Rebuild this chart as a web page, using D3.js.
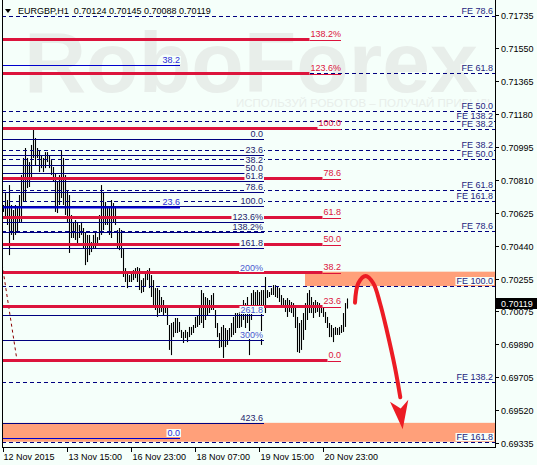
<!DOCTYPE html>
<html><head><meta charset="utf-8">
<script src="https://cdn.jsdelivr.net/npm/d3@7"></script>
<style>html,body{margin:0;padding:0;background:#F5FFFA;} svg{display:block;}</style>
</head><body><svg id="c" width="537" height="465"></svg>
<script>
// ---------------- DATA ----------------
const symbolTitle = "EURGBP,H1  0.70124 0.70145 0.70088 0.70119";
const lastPrice = 0.70119;
const barHigh = [
0.70669,0.70736,0.70697,0.70781,0.70669,0.70641,0.70669,0.70652,0.70725,0.70837,
0.70933,0.70989,0.70933,0.70910,0.71006,0.71090,0.71045,0.70989,0.70977,0.70949,
0.70933,0.70966,0.70966,0.70949,0.70921,0.70882,0.70848,0.70798,0.70837,0.70977,
0.70933,0.70837,0.70753,0.70725,0.70613,0.70574,0.70585,0.70574,0.70557,0.70574,
0.70540,0.70517,0.70501,0.70501,0.70461,0.70501,0.70517,0.70489,0.70613,0.70781,
0.70742,0.70686,0.70652,0.70652,0.70697,0.70680,0.70658,0.70529,0.70540,0.70529,
0.70428,0.70315,0.70293,0.70276,0.70287,0.70304,0.70315,0.70321,0.70315,0.70248,
0.70259,0.70287,0.70304,0.70315,0.70276,0.70248,0.70203,0.70203,0.70192,0.70153,
0.70136,0.70108,0.70097,0.69996,0.70007,0.70013,0.70035,0.70035,0.70013,0.69968,
0.69957,0.69968,0.69957,0.69985,0.69985,0.69996,0.70041,0.70052,0.70097,0.70192,
0.70175,0.70153,0.70147,0.70136,0.70164,0.70175,0.70080,0.70007,0.69951,0.69985,
0.69996,0.69979,0.69968,0.69979,0.70007,0.70041,0.70063,0.70063,0.70069,0.70080,
0.70136,0.70119,0.70153,0.70080,0.70175,0.70192,0.70181,0.70192,0.70181,0.70192,
0.70192,0.70265,0.70192,0.70181,0.70203,0.70220,0.70220,0.70209,0.70203,0.70164,
0.70147,0.70136,0.70147,0.70136,0.70125,0.70119,0.70097,0.70041,0.70007,0.70024,
0.70063,0.70119,0.70175,0.70192,0.70153,0.70125,0.70136,0.70125,0.70119,0.70108,
0.70097,0.70069,0.70041,0.70007,0.69996,0.69979,0.69985,0.69979,0.69985,0.69996,
0.70063,0.70119,0.70145];
const barLow = [
0.70630,0.70596,0.70557,0.70388,0.70501,0.70473,0.70501,0.70517,0.70574,0.70574,
0.70686,0.70686,0.70764,0.70770,0.70820,0.70933,0.70893,0.70933,0.70854,0.70876,
0.70854,0.70876,0.70910,0.70876,0.70837,0.70798,0.70630,0.70624,0.70669,0.70708,
0.70669,0.70613,0.70574,0.70400,0.70484,0.70484,0.70473,0.70445,0.70484,0.70501,
0.70428,0.70332,0.70349,0.70388,0.70405,0.70428,0.70428,0.70445,0.70473,0.70501,
0.70529,0.70557,0.70557,0.70501,0.70484,0.70568,0.70557,0.70428,0.70416,0.70372,
0.70265,0.70237,0.70203,0.70237,0.70237,0.70248,0.70259,0.70237,0.70192,0.70175,
0.70181,0.70209,0.70248,0.70203,0.70153,0.70097,0.70080,0.70041,0.70063,0.70069,
0.70052,0.70063,0.69996,0.69856,0.69827,0.69928,0.69951,0.69951,0.69957,0.69923,
0.69895,0.69923,0.69900,0.69928,0.69940,0.69951,0.69979,0.69985,0.69996,0.70007,
0.69979,0.70024,0.70052,0.70063,0.70080,0.70080,0.69979,0.69928,0.69867,0.69872,
0.69811,0.69872,0.69884,0.69912,0.69928,0.69940,0.69951,0.69979,0.69979,0.69985,
0.70024,0.69979,0.70007,0.69827,0.70024,0.70097,0.70063,0.70063,0.70091,0.69884,
0.70063,0.70063,0.70147,0.70153,0.70164,0.70164,0.70153,0.70147,0.70125,0.70108,
0.70097,0.70069,0.70041,0.70069,0.70063,0.70041,0.69979,0.69844,0.69839,0.69856,
0.69912,0.69968,0.70024,0.70063,0.70063,0.70035,0.70063,0.70069,0.70041,0.70063,
0.70041,0.70007,0.69979,0.69928,0.69928,0.69900,0.69940,0.69940,0.69940,0.69951,
0.69957,0.69985,0.70088];

const dateTickBars = [0, 32, 64, 96, 128, 160];
const dateTickLabels = ["12 Nov 2015","13 Nov 15:00","16 Nov 23:00","18 Nov 07:00","19 Nov 15:00","20 Nov 23:00"];
const priceTicks = [0.71735,0.71550,0.71365,0.71180,0.70995,0.70810,0.70625,0.70440,0.70255,0.70075,0.69890,0.69705,0.69520,0.69335];

const feLevels = [0.71729,0.71411,0.71196,0.71140,0.71097,0.70978,0.70927,0.70756,0.70691,0.70523,0.70214,0.69676,0.69341];
const feLabels = ["FE 78.6","FE 61.8","FE 50.0","FE 138.2","FE 38.2","FE 38.2","FE 50.0","FE 61.8","FE 161.8","FE 78.6","FE 100.0","FE 138.2","FE 161.8"];

const navyFibLevels = [0.71038,0.70949,0.70895,0.70850,0.70806,0.70743,0.70662,0.70574,0.70519,0.70430,0.70287,0.70054,0.69911,0.69447];
const navyFibLabels = ["0.0","23.6","38.2","50.0","61.8","78.6","100.0","123.6%","138.2%","161.8","200%","261.8","300%","423.6"];
const navyFibEndBar = 130.25;

const redFibLevels = [0.69797,0.70105,0.70295,0.70449,0.70603,0.70822,0.71101,0.71409,0.71599];
const redFibLabels = ["0.0","23.6","38.2","50.0","61.8","78.6","100.0","123.6%","138.2%"];
const redFibEndBar = 168.75;
const redTrend = [[-11.2, 0.71101],[6.75, 0.69797]];

const blueFibLevels = [0.69361,0.70660,0.71457];
const blueFibLabels = ["0.0","23.6","38.2"];
const blueFibEndBar = 88.25;

const upperZone = [0.70295, 0.70214];
const upperZoneStartBar = 150.75;
const lowerZone = [0.69447, 0.69341];

const arrowPath = [[175.75,0.70121],[177.4,0.70230],[181.1,0.70271],[184.9,0.70230],[188.25,0.70118],[191.6,0.69968],[195.75,0.69757],[198.4,0.69590]];
const arrowHead = [[199.6,0.69411],[202.4,0.69577],[198.6,0.69528],[193.25,0.69565]];

// ---------------- CHART ----------------
const BG = "#F5FFFA";
const FONT = "Liberation Sans, Arial, sans-serif";
const svg = d3.select("#c");
const P = {left:2, right:495, top:0, bottom:447};
const x = d3.scaleLinear().domain([-0.75, 245.75]).range([P.left, P.right]);
const y = d3.scaleLinear().domain([0.69335, 0.71735]).range([442.8, 15]);

svg.append("rect").attr("width",537).attr("height",465).attr("fill",BG);
svg.append("defs").append("clipPath").attr("id","pc")
  .append("rect").attr("x",P.left).attr("y",P.top).attr("width",P.right-P.left).attr("height",P.bottom-P.top);

const g = svg.append("g").attr("clip-path","url(#pc)");

// watermark
g.append("text").attr("x",24).attr("y",92).attr("font-family",FONT).attr("font-size",86).attr("font-weight","bold")
  .attr("fill","#e8eeea").text("RoboForex");
g.append("text").attr("x",236).attr("y",107).attr("font-family",FONT).attr("font-size",11.5)
  .attr("fill","#e8eeea").text("ИСПОЛЬЗУЙ РОБОТОВ – ПОЛУЧАЙ ПРИБЫЛЬ");

// zones
g.append("rect").attr("x",x(upperZoneStartBar)).attr("y",y(upperZone[0]))
  .attr("width",P.right-x(upperZoneStartBar)).attr("height",y(upperZone[1])-y(upperZone[0])).attr("fill","#FFA07A");
g.append("rect").attr("x",P.left).attr("y",y(lowerZone[0]))
  .attr("width",P.right-P.left).attr("height",y(lowerZone[1])-y(lowerZone[0])).attr("fill","#FFA07A");

// bars
g.append("g").selectAll("line").data(barHigh).join("line")
  .attr("x1",(d,i)=>x(i)).attr("x2",(d,i)=>x(i))
  .attr("y1",d=>y(d)).attr("y2",(d,i)=>y(barLow[i]))
  .attr("stroke","#000").attr("stroke-width",1.1);

// FE dashed lines
g.append("g").selectAll("line").data(feLevels).join("line")
  .attr("x1",P.left).attr("x2",P.right)
  .attr("y1",d=>Math.round(y(d))+0.5).attr("y2",d=>Math.round(y(d))+0.5)
  .attr("stroke","#000080").attr("stroke-width",1).attr("stroke-dasharray","4,3");

// navy fib
g.append("g").selectAll("line").data(navyFibLevels).join("line")
  .attr("x1",P.left).attr("x2",x(navyFibEndBar))
  .attr("y1",d=>Math.round(y(d))+0.5).attr("y2",d=>Math.round(y(d))+0.5)
  .attr("stroke","#000080").attr("stroke-width",1);

// blue fib
g.append("g").selectAll("line").data(blueFibLevels).join("line")
  .attr("x1",P.left).attr("x2",x(blueFibEndBar))
  .attr("y1",d=>Math.round(y(d))+0.5).attr("y2",d=>Math.round(y(d))+0.5)
  .attr("stroke","#0000CD").attr("stroke-width",(d,i)=>i===1?2:1);

// red trend (dashed diagonal)
g.append("line").attr("x1",x(redTrend[0][0])).attr("y1",y(redTrend[0][1]))
  .attr("x2",x(redTrend[1][0])).attr("y2",y(redTrend[1][1]))
  .attr("stroke","#8B0000").attr("stroke-width",1).attr("stroke-dasharray","3,3");

// labels helper
function label(parent, txt, xr, py, color, bg) {
  const t = parent.append("text").attr("x",xr).attr("y",Math.round(y(py))-2)
    .attr("text-anchor","end").attr("font-family",FONT).attr("font-size",9)
    .attr("fill",color).text(txt);
  if (bg) {
    const b = t.node().getBBox();
    parent.insert("rect", () => t.node()).attr("x",b.x-1).attr("y",b.y+1).attr("width",b.width+2).attr("height",b.height-2).attr("fill",BG);
  }
  return t;
}

// red fib lines (thick up to label, thin under label)
const redG = g.append("g");
const redLabG = g.append("g");
redFibLevels.forEach((p,i)=>{
  const t = label(redLabG, redFibLabels[i], x(redFibEndBar), p, "#DC143C", false);
  const lx = t.node().getBBox().x;
  const yy = Math.round(y(p))+0.5;
  redG.append("line").attr("x1",P.left).attr("x2",lx-1).attr("y1",yy).attr("y2",yy)
    .attr("stroke","#DC143C").attr("stroke-width",3);
  redG.append("line").attr("x1",lx-1).attr("x2",x(redFibEndBar)).attr("y1",yy+1).attr("y2",yy+1)
    .attr("stroke","#DC143C").attr("stroke-width",1);
});

// navy labels
const navyLabG = g.append("g");
navyFibLevels.forEach((p,i)=>{
  const lbl = navyFibLabels[i];
  const c = (lbl==="200%"||lbl==="261.8"||lbl==="300%") ? "#4a5ad0" : "#1c1c6c";
  label(navyLabG, lbl, x(navyFibEndBar)-1, p, c, true);
});
// blue labels
const blueLabG = g.append("g");
blueFibLevels.forEach((p,i)=>label(blueLabG, blueFibLabels[i], x(blueFibEndBar), p, "#2b2bd8", true));
// FE labels
const feLabG = g.append("g");
feLevels.forEach((p,i)=>label(feLabG, feLabels[i], P.right-2, p, "#1e1e80", true));

// arrow
g.append("path").attr("d", d3.line().x(d=>x(d[0])).y(d=>y(d[1])).curve(d3.curveCatmullRom)(arrowPath))
  .attr("fill","none").attr("stroke","#EC1C24").attr("stroke-width",4).attr("stroke-linecap","round");
g.append("path").attr("d", d3.line().x(d=>x(d[0])).y(d=>y(d[1]))(arrowHead)+"Z").attr("fill","#EC1C24");

// axes frame
svg.append("line").attr("x1",P.left+0.5).attr("x2",P.left+0.5).attr("y1",0).attr("y2",P.bottom).attr("stroke","#000");
svg.append("line").attr("x1",P.right+0.5).attr("x2",P.right+0.5).attr("y1",0).attr("y2",P.bottom+1).attr("stroke","#000");
svg.append("line").attr("x1",P.left).attr("x2",P.right+1).attr("y1",P.bottom+0.5).attr("y2",P.bottom+0.5).attr("stroke","#000");

// right axis
const ra = svg.append("g");
priceTicks.forEach(p=>{
  const yy = Math.round(y(p))+0.5;
  ra.append("line").attr("x1",P.right).attr("x2",P.right+4).attr("y1",yy).attr("y2",yy).attr("stroke","#000");
  ra.append("text").attr("x",P.right+6).attr("y",yy+3.5).attr("font-family",FONT).attr("font-size",9)
    .attr("fill","#000").text(d3.format(".5f")(p));
});
// current price box
const cy = y(lastPrice);
ra.append("rect").attr("x",P.right+1).attr("y",Math.round(cy)-5).attr("width",537-P.right-1).attr("height",11).attr("fill","#000");
ra.append("text").attr("x",P.right+6).attr("y",Math.round(cy)+3.5).attr("font-family",FONT).attr("font-size",9)
  .attr("fill","#fff").text(d3.format(".5f")(lastPrice));

// bottom axis
const ba = svg.append("g");
dateTickBars.forEach((b,i)=>{
  const xx = x(b);
  ba.append("line").attr("x1",xx).attr("x2",xx).attr("y1",P.bottom).attr("y2",P.bottom+5).attr("stroke","#000");
  ba.append("text").attr("x",xx+ (i===0?0:1)).attr("y",460).attr("font-family",FONT).attr("font-size",9)
    .attr("fill","#000").text(dateTickLabels[i]);
});

// title
svg.append("path").attr("d","M5,9 L11,9 L8,13 Z").attr("fill","#000");
svg.append("text").attr("x",18).attr("y",14).attr("font-family",FONT).attr("font-size",9)
  .attr("fill","#000").attr("xml:space","preserve").style("white-space","pre").text(symbolTitle);
</script></body></html>
